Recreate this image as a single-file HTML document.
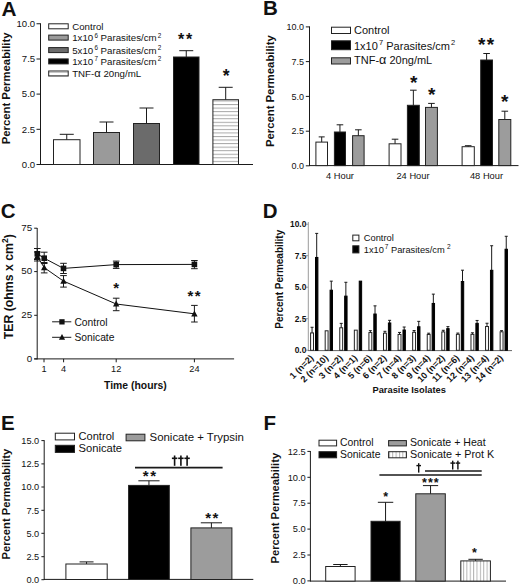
<!DOCTYPE html>
<html><head><meta charset="utf-8"><style>
html,body{margin:0;padding:0;background:#fff;}
svg{display:block;}
text{font-family:"Liberation Sans",sans-serif;fill:#111;}
</style></head><body>
<svg width="520" height="585" viewBox="0 0 520 585">
<rect width="520" height="585" fill="#fff"/>
<defs>
<pattern id="hstripe" patternUnits="userSpaceOnUse" x="0" y="100.5" width="4" height="3.55"><rect width="4" height="3.55" fill="#fff"/><rect y="0" width="4" height="1" fill="#a8a8a8"/></pattern>
<pattern id="hstripe2" patternUnits="userSpaceOnUse" x="0" y="72" width="4" height="3"><rect width="4" height="3" fill="#fff"/><rect y="0" width="4" height="1" fill="#c8c8c8"/></pattern>
<pattern id="vstripe" patternUnits="userSpaceOnUse" x="463" y="0" width="3.37" height="4"><rect width="3.37" height="4" fill="#fff"/><rect x="0" width="1" height="4" fill="#b4b4b4"/></pattern>
</defs>
<text x="1.5" y="15.9" font-size="20.8" font-weight="bold" text-anchor="start">A</text>
<line x1="40.5" y1="23.3" x2="40.5" y2="165" stroke="#1a1a1a" stroke-width="1"/>
<line x1="36.5" y1="23.75" x2="40.5" y2="23.75" stroke="#1a1a1a" stroke-width="1"/>
<text x="35.2" y="26.95" font-size="9.6" text-anchor="end">10.0</text>
<line x1="36.5" y1="59" x2="40.5" y2="59" stroke="#1a1a1a" stroke-width="1"/>
<text x="35.2" y="62.2" font-size="9.6" text-anchor="end">7.5</text>
<line x1="36.5" y1="94.1" x2="40.5" y2="94.1" stroke="#1a1a1a" stroke-width="1"/>
<text x="35.2" y="97.3" font-size="9.6" text-anchor="end">5.0</text>
<line x1="36.5" y1="129.3" x2="40.5" y2="129.3" stroke="#1a1a1a" stroke-width="1"/>
<text x="35.2" y="132.5" font-size="9.6" text-anchor="end">2.5</text>
<line x1="36.5" y1="164.5" x2="40.5" y2="164.5" stroke="#1a1a1a" stroke-width="1"/>
<text x="35.2" y="167.7" font-size="9.6" text-anchor="end">0.0</text>
<line x1="40" y1="164.5" x2="253" y2="164.5" stroke="#1a1a1a" stroke-width="1"/>
<line x1="66.75" y1="134.3" x2="66.75" y2="140.2" stroke="#1a1a1a" stroke-width="1"/>
<line x1="59.75" y1="134.3" x2="73.75" y2="134.3" stroke="#1a1a1a" stroke-width="1"/>
<rect x="53.5" y="139.7" width="26.5" height="24.80000000000001" fill="#fff" stroke="#222" stroke-width="1"/>
<line x1="106.5" y1="122" x2="106.5" y2="133" stroke="#1a1a1a" stroke-width="1"/>
<line x1="99.5" y1="122" x2="113.5" y2="122" stroke="#1a1a1a" stroke-width="1"/>
<rect x="93.5" y="132.5" width="26" height="32.0" fill="#9a9a9a" stroke="#222" stroke-width="1"/>
<line x1="146.5" y1="108" x2="146.5" y2="124" stroke="#1a1a1a" stroke-width="1"/>
<line x1="139.5" y1="108" x2="153.5" y2="108" stroke="#1a1a1a" stroke-width="1"/>
<rect x="133.5" y="123.5" width="26" height="41.0" fill="#6b6b6b" stroke="#222" stroke-width="1"/>
<line x1="186.25" y1="50.7" x2="186.25" y2="57.5" stroke="#1a1a1a" stroke-width="1"/>
<line x1="179.25" y1="50.7" x2="193.25" y2="50.7" stroke="#1a1a1a" stroke-width="1"/>
<rect x="173.5" y="57.0" width="25.5" height="107.5" fill="#000" stroke="#222" stroke-width="1"/>
<line x1="225.7" y1="87.3" x2="225.7" y2="100.2" stroke="#1a1a1a" stroke-width="1"/>
<line x1="218.7" y1="87.3" x2="232.7" y2="87.3" stroke="#1a1a1a" stroke-width="1"/>
<rect x="212.9" y="99.7" width="25.599999999999994" height="64.8" fill="url(#hstripe)" stroke="#222" stroke-width="1"/>
<text x="181.0" y="44.64" font-size="16" font-weight="bold" text-anchor="middle">*</text>
<text x="189.1" y="44.64" font-size="16" font-weight="bold" text-anchor="middle">*</text>
<text x="226.2" y="82.08" font-size="17.5" font-weight="bold" text-anchor="middle">*</text>
<rect x="48.7" y="23.8" width="19.5" height="5.0" fill="#fff" stroke="#222" stroke-width="1"/>
<text x="72.2" y="29.7" font-size="9.7" text-anchor="start">Control</text>
<rect x="48.7" y="35.1" width="19.5" height="5.0" fill="#9a9a9a" stroke="#222" stroke-width="1"/>
<text x="72.2" y="41.1" font-size="9.7" text-anchor="start">1x10<tspan dx="1.2" dy="-3.6" font-size="6.3">6</tspan><tspan dy="3.6"> Parasites/cm</tspan><tspan dx="1.2" dy="-3.6" font-size="6.3">2</tspan></text>
<rect x="48.7" y="47.6" width="19.5" height="5.0" fill="#6b6b6b" stroke="#222" stroke-width="1"/>
<text x="72.2" y="53.6" font-size="9.7" text-anchor="start">5x10<tspan dx="1.2" dy="-3.6" font-size="6.3">6</tspan><tspan dy="3.6"> Parasites/cm</tspan><tspan dx="1.2" dy="-3.6" font-size="6.3">2</tspan></text>
<rect x="48.7" y="58.9" width="19.5" height="5.000000000000007" fill="#000" stroke="#222" stroke-width="1"/>
<text x="72.2" y="64.9" font-size="9.7" text-anchor="start">1x10<tspan dx="1.2" dy="-3.6" font-size="6.3">7</tspan><tspan dy="3.6"> Parasites/cm</tspan><tspan dx="1.2" dy="-3.6" font-size="6.3">2</tspan></text>
<rect x="48.7" y="71.0" width="19.5" height="5.0" fill="url(#hstripe2)" stroke="#222" stroke-width="1"/>
<text x="72.2" y="76.75" font-size="9.7" text-anchor="start">TNF-<tspan font-size="1.15em">α</tspan> 20ng/mL</text>
<text x="10.3" y="88.4" font-size="11.3" font-weight="bold" text-anchor="middle" transform="rotate(-90 10.3 88.4)">Percent Permeability</text>
<text x="263.1" y="15.3" font-size="20.5" font-weight="bold" text-anchor="start">B</text>
<line x1="309.5" y1="26.4" x2="309.5" y2="166" stroke="#1a1a1a" stroke-width="1"/>
<line x1="305.8" y1="26.9" x2="309.5" y2="26.9" stroke="#1a1a1a" stroke-width="1"/>
<text x="304.0" y="30.1" font-size="9" text-anchor="end">10.0</text>
<line x1="305.8" y1="61.6" x2="309.5" y2="61.6" stroke="#1a1a1a" stroke-width="1"/>
<text x="304.0" y="64.8" font-size="9" text-anchor="end">7.5</text>
<line x1="305.8" y1="96.4" x2="309.5" y2="96.4" stroke="#1a1a1a" stroke-width="1"/>
<text x="304.0" y="99.6" font-size="9" text-anchor="end">5.0</text>
<line x1="305.8" y1="131.2" x2="309.5" y2="131.2" stroke="#1a1a1a" stroke-width="1"/>
<text x="304.0" y="134.4" font-size="9" text-anchor="end">2.5</text>
<line x1="305.8" y1="165.8" x2="309.5" y2="165.8" stroke="#1a1a1a" stroke-width="1"/>
<text x="304.0" y="169.0" font-size="9" text-anchor="end">0.0</text>
<line x1="309" y1="165.6" x2="518.5" y2="165.6" stroke="#1a1a1a" stroke-width="1"/>
<line x1="321.7" y1="136.9" x2="321.7" y2="142.6" stroke="#1a1a1a" stroke-width="1"/>
<line x1="318.7" y1="136.9" x2="324.7" y2="136.9" stroke="#1a1a1a" stroke-width="1"/>
<rect x="315.9" y="142.1" width="11.600000000000023" height="23.5" fill="#fff" stroke="#222" stroke-width="1"/>
<line x1="339.95" y1="124.8" x2="339.95" y2="132.5" stroke="#1a1a1a" stroke-width="1"/>
<line x1="336.65" y1="124.8" x2="343.25" y2="124.8" stroke="#1a1a1a" stroke-width="1"/>
<rect x="334.4" y="132.0" width="11.100000000000023" height="33.599999999999994" fill="#000" stroke="#222" stroke-width="1"/>
<line x1="358.35" y1="129.8" x2="358.35" y2="136.2" stroke="#1a1a1a" stroke-width="1"/>
<line x1="355.05" y1="129.8" x2="361.65000000000003" y2="129.8" stroke="#1a1a1a" stroke-width="1"/>
<rect x="352.6" y="135.7" width="11.5" height="29.900000000000006" fill="#9c9c9c" stroke="#222" stroke-width="1"/>
<line x1="395.05" y1="139.2" x2="395.05" y2="144.3" stroke="#1a1a1a" stroke-width="1"/>
<line x1="391.75" y1="139.2" x2="398.35" y2="139.2" stroke="#1a1a1a" stroke-width="1"/>
<rect x="389.1" y="143.8" width="11.899999999999977" height="21.799999999999983" fill="#fff" stroke="#222" stroke-width="1"/>
<line x1="413.35" y1="90.2" x2="413.35" y2="105.8" stroke="#1a1a1a" stroke-width="1"/>
<line x1="410.05" y1="90.2" x2="416.65000000000003" y2="90.2" stroke="#1a1a1a" stroke-width="1"/>
<rect x="407.4" y="105.3" width="11.900000000000034" height="60.3" fill="#000" stroke="#222" stroke-width="1"/>
<line x1="431.45" y1="103.4" x2="431.45" y2="107.9" stroke="#1a1a1a" stroke-width="1"/>
<line x1="428.15" y1="103.4" x2="434.75" y2="103.4" stroke="#1a1a1a" stroke-width="1"/>
<rect x="425.5" y="107.4" width="11.899999999999977" height="58.19999999999999" fill="#9c9c9c" stroke="#222" stroke-width="1"/>
<line x1="468.20000000000005" y1="145.7" x2="468.20000000000005" y2="147.2" stroke="#1a1a1a" stroke-width="1"/>
<line x1="464.90000000000003" y1="145.7" x2="471.50000000000006" y2="145.7" stroke="#1a1a1a" stroke-width="1"/>
<rect x="462.1" y="146.7" width="12.199999999999989" height="18.900000000000006" fill="#fff" stroke="#222" stroke-width="1"/>
<line x1="486.6" y1="53.5" x2="486.6" y2="60.5" stroke="#1a1a1a" stroke-width="1"/>
<line x1="483.3" y1="53.5" x2="489.90000000000003" y2="53.5" stroke="#1a1a1a" stroke-width="1"/>
<rect x="480.7" y="60.0" width="11.800000000000011" height="105.6" fill="#000" stroke="#222" stroke-width="1"/>
<line x1="504.8" y1="111.2" x2="504.8" y2="120" stroke="#1a1a1a" stroke-width="1"/>
<line x1="501.5" y1="111.2" x2="508.1" y2="111.2" stroke="#1a1a1a" stroke-width="1"/>
<rect x="498.8" y="119.5" width="12.0" height="46.099999999999994" fill="#9c9c9c" stroke="#222" stroke-width="1"/>
<text x="413.8" y="88.81" font-size="19" font-weight="bold" text-anchor="middle">*</text>
<text x="431.7" y="101.31" font-size="19" font-weight="bold" text-anchor="middle">*</text>
<text x="481.8" y="50.51" font-size="19" font-weight="bold" text-anchor="middle">*</text>
<text x="490.4" y="50.51" font-size="19" font-weight="bold" text-anchor="middle">*</text>
<text x="504.7" y="107.61" font-size="19" font-weight="bold" text-anchor="middle">*</text>
<text x="340" y="178.6" font-size="9.3" text-anchor="middle">4 Hour</text>
<text x="413" y="178.6" font-size="9.3" text-anchor="middle">24 Hour</text>
<text x="486.5" y="178.6" font-size="9.3" text-anchor="middle">48 Hour</text>
<rect x="331.5" y="27.2" width="19" height="6.300000000000001" fill="#fff" stroke="#222" stroke-width="1"/>
<text x="354" y="34.0" font-size="11" text-anchor="start">Control</text>
<rect x="331.5" y="40.8" width="19" height="8.900000000000006" fill="#000" stroke="#222" stroke-width="1"/>
<text x="354" y="49.8" font-size="11" text-anchor="start">1x10<tspan dx="1.2" dy="-4.5" font-size="7.5">7</tspan><tspan dy="4.5"> Parasites/cm</tspan><tspan dx="1.2" dy="-4.5" font-size="7.5">2</tspan></text>
<rect x="331.5" y="57.8" width="19" height="6.200000000000003" fill="#9c9c9c" stroke="#222" stroke-width="1"/>
<text x="354" y="64.3" font-size="11" text-anchor="start">TNF-<tspan font-size="1.15em">α</tspan> 20ng/mL</text>
<text x="274.4" y="91.1" font-size="11.3" font-weight="bold" text-anchor="middle" transform="rotate(-90 274.4 91.1)">Percent Permeability</text>
<text x="0.8" y="218.3" font-size="20.5" font-weight="bold" text-anchor="start">C</text>
<line x1="37.2" y1="228" x2="37.2" y2="359.4" stroke="#1a1a1a" stroke-width="1"/>
<line x1="34.2" y1="358.9" x2="234.1" y2="358.9" stroke="#1a1a1a" stroke-width="1"/>
<line x1="34.2" y1="228.2" x2="37.2" y2="228.2" stroke="#1a1a1a" stroke-width="1"/>
<text x="32.2" y="230.9" font-size="9.8" text-anchor="end">75</text>
<line x1="34.2" y1="271.6" x2="37.2" y2="271.6" stroke="#1a1a1a" stroke-width="1"/>
<text x="32.2" y="274.3" font-size="9.8" text-anchor="end">50</text>
<line x1="34.2" y1="315.3" x2="37.2" y2="315.3" stroke="#1a1a1a" stroke-width="1"/>
<text x="32.2" y="318.0" font-size="9.8" text-anchor="end">25</text>
<line x1="34.2" y1="358.9" x2="37.2" y2="358.9" stroke="#1a1a1a" stroke-width="1"/>
<text x="32.2" y="361.6" font-size="9.8" text-anchor="end">0</text>
<line x1="44" y1="358.9" x2="44" y2="362.3" stroke="#1a1a1a" stroke-width="1"/>
<text x="44" y="372" font-size="9.2" text-anchor="middle">1</text>
<line x1="63.6" y1="358.9" x2="63.6" y2="362.3" stroke="#1a1a1a" stroke-width="1"/>
<text x="63.6" y="372" font-size="9.2" text-anchor="middle">4</text>
<line x1="116.2" y1="358.9" x2="116.2" y2="362.3" stroke="#1a1a1a" stroke-width="1"/>
<text x="116.2" y="372" font-size="9.2" text-anchor="middle">12</text>
<line x1="194.4" y1="358.9" x2="194.4" y2="362.3" stroke="#1a1a1a" stroke-width="1"/>
<text x="194.4" y="372" font-size="9.2" text-anchor="middle">24</text>
<text x="135.4" y="389.2" font-size="10.4" font-weight="bold" text-anchor="middle">Time (hours)</text>
<text x="12.6" y="286.7" font-size="12.3" font-weight="bold" text-anchor="middle" transform="rotate(-90 12.6 286.7)">TER (ohms x cm<tspan dy="-4.8" font-size="8.5">2</tspan><tspan dy="4.8">)</tspan></text>
<polyline points="37.3,253.8 44.2,258.2 63.5,268.4 116.2,264.6 194.4,264.4" fill="none" stroke="#111" stroke-width="1"/>
<polyline points="37.3,256.3 44.2,267.6 63.5,281.1 116.2,304 194.4,313.8" fill="none" stroke="#111" stroke-width="1"/>
<line x1="37.3" y1="248.5" x2="37.3" y2="259.5" stroke="#1a1a1a" stroke-width="1"/>
<line x1="34.0" y1="248.5" x2="40.599999999999994" y2="248.5" stroke="#1a1a1a" stroke-width="1"/>
<line x1="34.0" y1="259.5" x2="40.599999999999994" y2="259.5" stroke="#1a1a1a" stroke-width="1"/>
<line x1="44.2" y1="252.2" x2="44.2" y2="263.5" stroke="#1a1a1a" stroke-width="1"/>
<line x1="40.900000000000006" y1="252.2" x2="47.5" y2="252.2" stroke="#1a1a1a" stroke-width="1"/>
<line x1="40.900000000000006" y1="263.5" x2="47.5" y2="263.5" stroke="#1a1a1a" stroke-width="1"/>
<line x1="63.5" y1="263.3" x2="63.5" y2="273.5" stroke="#1a1a1a" stroke-width="1"/>
<line x1="60.2" y1="263.3" x2="66.8" y2="263.3" stroke="#1a1a1a" stroke-width="1"/>
<line x1="60.2" y1="273.5" x2="66.8" y2="273.5" stroke="#1a1a1a" stroke-width="1"/>
<line x1="116.2" y1="261.1" x2="116.2" y2="268.4" stroke="#1a1a1a" stroke-width="1"/>
<line x1="112.9" y1="261.1" x2="119.5" y2="261.1" stroke="#1a1a1a" stroke-width="1"/>
<line x1="112.9" y1="268.4" x2="119.5" y2="268.4" stroke="#1a1a1a" stroke-width="1"/>
<line x1="194.4" y1="260.5" x2="194.4" y2="268.7" stroke="#1a1a1a" stroke-width="1"/>
<line x1="191.1" y1="260.5" x2="197.70000000000002" y2="260.5" stroke="#1a1a1a" stroke-width="1"/>
<line x1="191.1" y1="268.7" x2="197.70000000000002" y2="268.7" stroke="#1a1a1a" stroke-width="1"/>
<line x1="37.3" y1="252" x2="37.3" y2="261" stroke="#1a1a1a" stroke-width="1"/>
<line x1="34.0" y1="252" x2="40.599999999999994" y2="252" stroke="#1a1a1a" stroke-width="1"/>
<line x1="34.0" y1="261" x2="40.599999999999994" y2="261" stroke="#1a1a1a" stroke-width="1"/>
<line x1="44.2" y1="262.5" x2="44.2" y2="272.9" stroke="#1a1a1a" stroke-width="1"/>
<line x1="40.900000000000006" y1="262.5" x2="47.5" y2="262.5" stroke="#1a1a1a" stroke-width="1"/>
<line x1="40.900000000000006" y1="272.9" x2="47.5" y2="272.9" stroke="#1a1a1a" stroke-width="1"/>
<line x1="63.5" y1="275.6" x2="63.5" y2="287.1" stroke="#1a1a1a" stroke-width="1"/>
<line x1="60.2" y1="275.6" x2="66.8" y2="275.6" stroke="#1a1a1a" stroke-width="1"/>
<line x1="60.2" y1="287.1" x2="66.8" y2="287.1" stroke="#1a1a1a" stroke-width="1"/>
<line x1="116.2" y1="298.2" x2="116.2" y2="310.7" stroke="#1a1a1a" stroke-width="1"/>
<line x1="112.9" y1="298.2" x2="119.5" y2="298.2" stroke="#1a1a1a" stroke-width="1"/>
<line x1="112.9" y1="310.7" x2="119.5" y2="310.7" stroke="#1a1a1a" stroke-width="1"/>
<line x1="194.4" y1="305.4" x2="194.4" y2="322" stroke="#1a1a1a" stroke-width="1"/>
<line x1="191.1" y1="305.4" x2="197.70000000000002" y2="305.4" stroke="#1a1a1a" stroke-width="1"/>
<line x1="191.1" y1="322" x2="197.70000000000002" y2="322" stroke="#1a1a1a" stroke-width="1"/>
<rect x="34.5" y="251.0" width="5.599999999999994" height="5.600000000000023" fill="#111"/>
<rect x="41.400000000000006" y="255.39999999999998" width="5.599999999999994" height="5.600000000000023" fill="#111"/>
<rect x="60.7" y="265.59999999999997" width="5.599999999999994" height="5.600000000000023" fill="#111"/>
<rect x="113.4" y="261.8" width="5.599999999999994" height="5.600000000000023" fill="#111"/>
<rect x="191.6" y="261.59999999999997" width="5.600000000000023" height="5.600000000000023" fill="#111"/>
<polygon points="34.099999999999994,258.90000000000003 40.5,258.90000000000003 37.3,252.9" fill="#111"/>
<polygon points="41.0,270.20000000000005 47.400000000000006,270.20000000000005 44.2,264.20000000000005" fill="#111"/>
<polygon points="60.3,283.70000000000005 66.7,283.70000000000005 63.5,277.70000000000005" fill="#111"/>
<polygon points="113.0,306.6 119.4,306.6 116.2,300.6" fill="#111"/>
<polygon points="191.20000000000002,316.40000000000003 197.6,316.40000000000003 194.4,310.40000000000003" fill="#111"/>
<text x="116.2" y="293.15" font-size="15" font-weight="bold" text-anchor="middle">*</text>
<text x="190.4" y="300.65" font-size="15" font-weight="bold" text-anchor="middle">*</text>
<text x="197.6" y="300.65" font-size="15" font-weight="bold" text-anchor="middle">*</text>
<line x1="52.1" y1="321.8" x2="71.3" y2="321.8" stroke="#1a1a1a" stroke-width="1"/>
<rect x="59.3" y="319.2" width="5.299999999999997" height="5.300000000000011" fill="#111"/>
<text x="74.4" y="325.5" font-size="10.3" text-anchor="start">Control</text>
<line x1="52.1" y1="337.3" x2="71.3" y2="337.3" stroke="#1a1a1a" stroke-width="1"/>
<polygon points="58.9,339.8 65.1,339.8 62,334" fill="#111"/>
<text x="74.4" y="341.1" font-size="10.3" text-anchor="start">Sonicate</text>
<text x="262.7" y="217.7" font-size="20.5" font-weight="bold" text-anchor="start">D</text>
<line x1="308.3" y1="222" x2="308.3" y2="350.8" stroke="#9a9a9a" stroke-width="1"/>
<line x1="306" y1="224.2" x2="308.3" y2="224.2" stroke="#9a9a9a" stroke-width="1"/>
<text x="306.3" y="227.3" font-size="8.4" font-weight="bold" text-anchor="end">10.0</text>
<line x1="306" y1="255.7" x2="308.3" y2="255.7" stroke="#9a9a9a" stroke-width="1"/>
<text x="306.3" y="258.8" font-size="8.4" font-weight="bold" text-anchor="end">7.5</text>
<line x1="306" y1="287.2" x2="308.3" y2="287.2" stroke="#9a9a9a" stroke-width="1"/>
<text x="306.3" y="290.3" font-size="8.4" font-weight="bold" text-anchor="end">5.0</text>
<line x1="306" y1="318.7" x2="308.3" y2="318.7" stroke="#9a9a9a" stroke-width="1"/>
<text x="306.3" y="321.8" font-size="8.4" font-weight="bold" text-anchor="end">2.5</text>
<line x1="306" y1="350.2" x2="308.3" y2="350.2" stroke="#9a9a9a" stroke-width="1"/>
<text x="306.3" y="353.3" font-size="8.4" font-weight="bold" text-anchor="end">0.0</text>
<line x1="308" y1="350.6" x2="512" y2="350.6" stroke="#666" stroke-width="1"/>
<line x1="312.04999999999995" y1="327.268" x2="312.04999999999995" y2="333.43399999999997" stroke="#1a1a1a" stroke-width="1"/>
<line x1="310.54999999999995" y1="327.268" x2="313.54999999999995" y2="327.268" stroke="#1a1a1a" stroke-width="1"/>
<rect x="310.59999999999997" y="332.93399999999997" width="2.900000000000034" height="17.366000000000042" fill="#fff" stroke="#222" stroke-width="1"/>
<line x1="316.7" y1="233.398" x2="316.7" y2="257.96" stroke="#1a1a1a" stroke-width="1"/>
<line x1="315.2" y1="233.398" x2="318.2" y2="233.398" stroke="#1a1a1a" stroke-width="1"/>
<rect x="315.5" y="257.46" width="2.3999999999999773" height="92.84000000000003" fill="#000" stroke="#000" stroke-width="1"/>
<rect x="325.17999999999995" y="330.792" width="2.900000000000034" height="19.508000000000038" fill="#fff" stroke="#222" stroke-width="1"/>
<line x1="331.28" y1="281.152" x2="331.28" y2="290.71999999999997" stroke="#1a1a1a" stroke-width="1"/>
<line x1="329.78" y1="281.152" x2="332.78" y2="281.152" stroke="#1a1a1a" stroke-width="1"/>
<rect x="330.08" y="290.21999999999997" width="2.3999999999999773" height="60.08000000000004" fill="#000" stroke="#000" stroke-width="1"/>
<line x1="341.21000000000004" y1="323.36199999999997" x2="341.21000000000004" y2="328.268" stroke="#1a1a1a" stroke-width="1"/>
<line x1="339.71000000000004" y1="323.36199999999997" x2="342.71000000000004" y2="323.36199999999997" stroke="#1a1a1a" stroke-width="1"/>
<rect x="339.76" y="327.768" width="2.900000000000034" height="22.53200000000004" fill="#fff" stroke="#222" stroke-width="1"/>
<line x1="345.86" y1="282.286" x2="345.86" y2="296.642" stroke="#1a1a1a" stroke-width="1"/>
<line x1="344.36" y1="282.286" x2="347.36" y2="282.286" stroke="#1a1a1a" stroke-width="1"/>
<rect x="344.66" y="296.142" width="2.3999999999999773" height="54.158000000000015" fill="#000" stroke="#000" stroke-width="1"/>
<rect x="354.34" y="330.162" width="2.900000000000034" height="20.138000000000034" fill="#fff" stroke="#222" stroke-width="1"/>
<rect x="359.24" y="281.148" width="2.3999999999999773" height="69.15199999999999" fill="#000" stroke="#000" stroke-width="1"/>
<line x1="370.37" y1="330.66999999999996" x2="370.37" y2="333.056" stroke="#1a1a1a" stroke-width="1"/>
<line x1="368.87" y1="330.66999999999996" x2="371.87" y2="330.66999999999996" stroke="#1a1a1a" stroke-width="1"/>
<rect x="368.91999999999996" y="332.556" width="2.900000000000034" height="17.744000000000028" fill="#fff" stroke="#222" stroke-width="1"/>
<line x1="375.02" y1="305.848" x2="375.02" y2="314.534" stroke="#1a1a1a" stroke-width="1"/>
<line x1="373.52" y1="305.848" x2="376.52" y2="305.848" stroke="#1a1a1a" stroke-width="1"/>
<rect x="373.82" y="314.034" width="2.3999999999999773" height="36.26600000000002" fill="#000" stroke="#000" stroke-width="1"/>
<line x1="384.95000000000005" y1="331.3" x2="384.95000000000005" y2="333.686" stroke="#1a1a1a" stroke-width="1"/>
<line x1="383.45000000000005" y1="331.3" x2="386.45000000000005" y2="331.3" stroke="#1a1a1a" stroke-width="1"/>
<rect x="383.5" y="333.186" width="2.900000000000034" height="17.114000000000033" fill="#fff" stroke="#222" stroke-width="1"/>
<line x1="389.6" y1="320.33799999999997" x2="389.6" y2="323.47999999999996" stroke="#1a1a1a" stroke-width="1"/>
<line x1="388.1" y1="320.33799999999997" x2="391.1" y2="320.33799999999997" stroke="#1a1a1a" stroke-width="1"/>
<rect x="388.40000000000003" y="322.97999999999996" width="2.3999999999999773" height="27.32000000000005" fill="#000" stroke="#000" stroke-width="1"/>
<line x1="399.53" y1="332.43399999999997" x2="399.53" y2="334.94599999999997" stroke="#1a1a1a" stroke-width="1"/>
<line x1="398.03" y1="332.43399999999997" x2="401.03" y2="332.43399999999997" stroke="#1a1a1a" stroke-width="1"/>
<rect x="398.08" y="334.44599999999997" width="2.900000000000034" height="15.854000000000042" fill="#fff" stroke="#222" stroke-width="1"/>
<line x1="404.18" y1="327.01599999999996" x2="404.18" y2="330.536" stroke="#1a1a1a" stroke-width="1"/>
<line x1="402.68" y1="327.01599999999996" x2="405.68" y2="327.01599999999996" stroke="#1a1a1a" stroke-width="1"/>
<rect x="402.98" y="330.036" width="2.3999999999999773" height="20.26400000000001" fill="#000" stroke="#000" stroke-width="1"/>
<line x1="414.11" y1="330.544" x2="414.11" y2="332.804" stroke="#1a1a1a" stroke-width="1"/>
<line x1="412.61" y1="330.544" x2="415.61" y2="330.544" stroke="#1a1a1a" stroke-width="1"/>
<rect x="412.65999999999997" y="332.304" width="2.900000000000034" height="17.996000000000038" fill="#fff" stroke="#222" stroke-width="1"/>
<line x1="418.76" y1="321.346" x2="418.76" y2="327.26" stroke="#1a1a1a" stroke-width="1"/>
<line x1="417.26" y1="321.346" x2="420.26" y2="321.346" stroke="#1a1a1a" stroke-width="1"/>
<rect x="417.56" y="326.76" width="2.3999999999999773" height="23.54000000000002" fill="#000" stroke="#000" stroke-width="1"/>
<line x1="428.68999999999994" y1="333.19" x2="428.68999999999994" y2="334.94599999999997" stroke="#1a1a1a" stroke-width="1"/>
<line x1="427.18999999999994" y1="333.19" x2="430.18999999999994" y2="333.19" stroke="#1a1a1a" stroke-width="1"/>
<rect x="427.23999999999995" y="334.44599999999997" width="2.900000000000034" height="15.854000000000042" fill="#fff" stroke="#222" stroke-width="1"/>
<line x1="433.34" y1="294.13" x2="433.34" y2="303.95" stroke="#1a1a1a" stroke-width="1"/>
<line x1="431.84" y1="294.13" x2="434.84" y2="294.13" stroke="#1a1a1a" stroke-width="1"/>
<rect x="432.14" y="303.45" width="2.3999999999999773" height="46.85000000000002" fill="#000" stroke="#000" stroke-width="1"/>
<line x1="443.27" y1="330.292" x2="443.27" y2="332.426" stroke="#1a1a1a" stroke-width="1"/>
<line x1="441.77" y1="330.292" x2="444.77" y2="330.292" stroke="#1a1a1a" stroke-width="1"/>
<rect x="441.81999999999994" y="331.926" width="2.900000000000034" height="18.374000000000024" fill="#fff" stroke="#222" stroke-width="1"/>
<line x1="447.91999999999996" y1="326.638" x2="447.91999999999996" y2="329.15" stroke="#1a1a1a" stroke-width="1"/>
<line x1="446.41999999999996" y1="326.638" x2="449.41999999999996" y2="326.638" stroke="#1a1a1a" stroke-width="1"/>
<rect x="446.71999999999997" y="328.65" width="2.3999999999999773" height="21.650000000000034" fill="#000" stroke="#000" stroke-width="1"/>
<line x1="457.85" y1="333.06399999999996" x2="457.85" y2="334.82" stroke="#1a1a1a" stroke-width="1"/>
<line x1="456.35" y1="333.06399999999996" x2="459.35" y2="333.06399999999996" stroke="#1a1a1a" stroke-width="1"/>
<rect x="456.4" y="334.32" width="2.900000000000034" height="15.980000000000018" fill="#fff" stroke="#222" stroke-width="1"/>
<line x1="462.5" y1="270.19" x2="462.5" y2="282.02599999999995" stroke="#1a1a1a" stroke-width="1"/>
<line x1="461.0" y1="270.19" x2="464.0" y2="270.19" stroke="#1a1a1a" stroke-width="1"/>
<rect x="461.3" y="281.52599999999995" width="2.3999999999999773" height="68.77400000000006" fill="#000" stroke="#000" stroke-width="1"/>
<line x1="472.42999999999995" y1="332.812" x2="472.42999999999995" y2="334.82" stroke="#1a1a1a" stroke-width="1"/>
<line x1="470.92999999999995" y1="332.812" x2="473.92999999999995" y2="332.812" stroke="#1a1a1a" stroke-width="1"/>
<rect x="470.97999999999996" y="334.32" width="2.900000000000034" height="15.980000000000018" fill="#fff" stroke="#222" stroke-width="1"/>
<line x1="477.08" y1="320.464" x2="477.08" y2="323.858" stroke="#1a1a1a" stroke-width="1"/>
<line x1="475.58" y1="320.464" x2="478.58" y2="320.464" stroke="#1a1a1a" stroke-width="1"/>
<rect x="475.88" y="323.358" width="2.3999999999999773" height="26.942000000000007" fill="#000" stroke="#000" stroke-width="1"/>
<line x1="487.01" y1="323.236" x2="487.01" y2="327.008" stroke="#1a1a1a" stroke-width="1"/>
<line x1="485.51" y1="323.236" x2="488.51" y2="323.236" stroke="#1a1a1a" stroke-width="1"/>
<rect x="485.55999999999995" y="326.508" width="2.900000000000034" height="23.79200000000003" fill="#fff" stroke="#222" stroke-width="1"/>
<line x1="491.65999999999997" y1="245.746" x2="491.65999999999997" y2="270.812" stroke="#1a1a1a" stroke-width="1"/>
<line x1="490.15999999999997" y1="245.746" x2="493.15999999999997" y2="245.746" stroke="#1a1a1a" stroke-width="1"/>
<rect x="490.46" y="270.312" width="2.3999999999999773" height="79.988" fill="#000" stroke="#000" stroke-width="1"/>
<line x1="501.59000000000003" y1="330.66999999999996" x2="501.59000000000003" y2="332.3" stroke="#1a1a1a" stroke-width="1"/>
<line x1="500.09000000000003" y1="330.66999999999996" x2="503.09000000000003" y2="330.66999999999996" stroke="#1a1a1a" stroke-width="1"/>
<rect x="500.14" y="331.8" width="2.900000000000034" height="18.5" fill="#fff" stroke="#222" stroke-width="1"/>
<line x1="506.24" y1="236.296" x2="506.24" y2="249.76999999999998" stroke="#1a1a1a" stroke-width="1"/>
<line x1="504.74" y1="236.296" x2="507.74" y2="236.296" stroke="#1a1a1a" stroke-width="1"/>
<rect x="505.04" y="249.26999999999998" width="2.3999999999999773" height="101.03000000000003" fill="#000" stroke="#000" stroke-width="1"/>
<text x="314.2" y="358.5" font-size="9.1" font-weight="bold" text-anchor="end" transform="rotate(-45 314.2 358.5)">1 (n=2)</text>
<text x="328.78" y="358.5" font-size="9.1" font-weight="bold" text-anchor="end" transform="rotate(-45 328.78 358.5)">2 (n=10)</text>
<text x="343.36" y="358.5" font-size="9.1" font-weight="bold" text-anchor="end" transform="rotate(-45 343.36 358.5)">3 (n=2)</text>
<text x="357.94" y="358.5" font-size="9.1" font-weight="bold" text-anchor="end" transform="rotate(-45 357.94 358.5)">4 (n=1)</text>
<text x="372.52" y="358.5" font-size="9.1" font-weight="bold" text-anchor="end" transform="rotate(-45 372.52 358.5)">5 (n=6)</text>
<text x="387.1" y="358.5" font-size="9.1" font-weight="bold" text-anchor="end" transform="rotate(-45 387.1 358.5)">6 (n=2)</text>
<text x="401.68" y="358.5" font-size="9.1" font-weight="bold" text-anchor="end" transform="rotate(-45 401.68 358.5)">7 (n=4)</text>
<text x="416.26" y="358.5" font-size="9.1" font-weight="bold" text-anchor="end" transform="rotate(-45 416.26 358.5)">8 (n=3)</text>
<text x="430.84" y="358.5" font-size="9.1" font-weight="bold" text-anchor="end" transform="rotate(-45 430.84 358.5)">9 (n=4)</text>
<text x="445.42" y="358.5" font-size="9.1" font-weight="bold" text-anchor="end" transform="rotate(-45 445.42 358.5)">10 (n=2)</text>
<text x="460.0" y="358.5" font-size="9.1" font-weight="bold" text-anchor="end" transform="rotate(-45 460.0 358.5)">11 (n=6)</text>
<text x="474.58" y="358.5" font-size="9.1" font-weight="bold" text-anchor="end" transform="rotate(-45 474.58 358.5)">12 (n=4)</text>
<text x="489.16" y="358.5" font-size="9.1" font-weight="bold" text-anchor="end" transform="rotate(-45 489.16 358.5)">13 (n=4)</text>
<text x="503.74" y="358.5" font-size="9.1" font-weight="bold" text-anchor="end" transform="rotate(-45 503.74 358.5)">14 (n=2)</text>
<text x="409.2" y="392.7" font-size="9.3" font-weight="bold" text-anchor="middle">Parasite Isolates</text>
<rect x="352.8" y="235.1" width="6.099999999999966" height="5.700000000000017" fill="#fff" stroke="#222" stroke-width="1"/>
<text x="363.8" y="241.3" font-size="9.3" text-anchor="start">Control</text>
<rect x="352.8" y="245.8" width="6.099999999999966" height="7.099999999999994" fill="#000" stroke="#222" stroke-width="1"/>
<text x="363.8" y="252.8" font-size="9.3" text-anchor="start">1x10<tspan dx="0.8" dy="-4" font-size="6.5">7</tspan><tspan dy="4"> Parasites/cm</tspan><tspan dx="2.2" dy="-4" font-size="6.5">2</tspan></text>
<text x="283.2" y="279.2" font-size="10" font-weight="bold" text-anchor="middle" transform="rotate(-90 283.2 279.2)">Percent Permeability</text>
<text x="0.9" y="429.9" font-size="20.5" font-weight="bold" text-anchor="start">E</text>
<line x1="44.2" y1="440.2" x2="44.2" y2="580" stroke="#1a1a1a" stroke-width="1"/>
<line x1="41.400000000000006" y1="440.6" x2="44.2" y2="440.6" stroke="#1a1a1a" stroke-width="1"/>
<text x="39.2" y="443.8" font-size="9.2" text-anchor="end">15.0</text>
<line x1="41.400000000000006" y1="463.9" x2="44.2" y2="463.9" stroke="#1a1a1a" stroke-width="1"/>
<text x="39.2" y="467.1" font-size="9.2" text-anchor="end">12.5</text>
<line x1="41.400000000000006" y1="487" x2="44.2" y2="487" stroke="#1a1a1a" stroke-width="1"/>
<text x="39.2" y="490.2" font-size="9.2" text-anchor="end">10.0</text>
<line x1="41.400000000000006" y1="510.3" x2="44.2" y2="510.3" stroke="#1a1a1a" stroke-width="1"/>
<text x="39.2" y="513.5" font-size="9.2" text-anchor="end">7.5</text>
<line x1="41.400000000000006" y1="533.3" x2="44.2" y2="533.3" stroke="#1a1a1a" stroke-width="1"/>
<text x="39.2" y="536.5" font-size="9.2" text-anchor="end">5.0</text>
<line x1="41.400000000000006" y1="556.7" x2="44.2" y2="556.7" stroke="#1a1a1a" stroke-width="1"/>
<text x="39.2" y="559.9" font-size="9.2" text-anchor="end">2.5</text>
<line x1="41.400000000000006" y1="579.7" x2="44.2" y2="579.7" stroke="#1a1a1a" stroke-width="1"/>
<text x="39.2" y="582.9" font-size="9.2" text-anchor="end">0.0</text>
<line x1="44" y1="579.4" x2="253.3" y2="579.4" stroke="#1a1a1a" stroke-width="1"/>
<line x1="86.55000000000001" y1="561.9" x2="86.55000000000001" y2="564.5" stroke="#1a1a1a" stroke-width="1"/>
<line x1="79.55000000000001" y1="561.9" x2="93.55000000000001" y2="561.9" stroke="#1a1a1a" stroke-width="1"/>
<rect x="65.9" y="564.0" width="41.3" height="15.5" fill="#fff" stroke="#222" stroke-width="1"/>
<line x1="148.95" y1="480.8" x2="148.95" y2="485.9" stroke="#1a1a1a" stroke-width="1"/>
<line x1="138.35" y1="480.8" x2="159.54999999999998" y2="480.8" stroke="#1a1a1a" stroke-width="1"/>
<rect x="128.6" y="485.4" width="40.70000000000002" height="94.10000000000002" fill="#000" stroke="#222" stroke-width="1"/>
<line x1="211.4" y1="522.8" x2="211.4" y2="528.4" stroke="#1a1a1a" stroke-width="1"/>
<line x1="200.8" y1="522.8" x2="222.0" y2="522.8" stroke="#1a1a1a" stroke-width="1"/>
<rect x="190.9" y="527.9" width="41.0" height="51.60000000000002" fill="#9c9c9c" stroke="#222" stroke-width="1"/>
<text x="145.75" y="480.65" font-size="15" font-weight="bold" text-anchor="middle">*</text>
<text x="153.05" y="480.65" font-size="15" font-weight="bold" text-anchor="middle">*</text>
<text x="208.15" y="523.25" font-size="15" font-weight="bold" text-anchor="middle">*</text>
<text x="215.45" y="523.25" font-size="15" font-weight="bold" text-anchor="middle">*</text>
<rect x="173.79999999999998" y="455.5" width="1.6" height="10.3" fill="#111"/>
<rect x="171.9" y="457.5" width="5.4" height="1.6" fill="#111"/>
<rect x="180.1" y="455.5" width="1.6" height="10.3" fill="#111"/>
<rect x="178.20000000000002" y="457.5" width="5.4" height="1.6" fill="#111"/>
<rect x="186.29999999999998" y="455.5" width="1.6" height="10.3" fill="#111"/>
<rect x="184.4" y="457.5" width="5.4" height="1.6" fill="#111"/>
<line x1="135" y1="467.6" x2="222.6" y2="467.6" stroke="#1a1a1a" stroke-width="1.6"/>
<rect x="55.3" y="433.2" width="19.200000000000003" height="6.699999999999989" fill="#fff" stroke="#222" stroke-width="1"/>
<text x="78.5" y="440" font-size="11.1" text-anchor="start">Control</text>
<rect x="55.3" y="445.3" width="19.200000000000003" height="7.099999999999966" fill="#000" stroke="#222" stroke-width="1"/>
<text x="78.5" y="452.3" font-size="11.2" text-anchor="start">Sonicate</text>
<rect x="126.1" y="434.2" width="18.80000000000001" height="6.600000000000023" fill="#9c9c9c" stroke="#222" stroke-width="1"/>
<text x="149.5" y="440.9" font-size="11.45" text-anchor="start">Sonicate + Trypsin</text>
<text x="10.3" y="504.1" font-size="11.2" font-weight="bold" text-anchor="middle" transform="rotate(-90 10.3 504.1)">Percent Permeability</text>
<text x="263.4" y="429.9" font-size="20.5" font-weight="bold" text-anchor="start">F</text>
<line x1="310.4" y1="451" x2="310.4" y2="581.4" stroke="#1a1a1a" stroke-width="1"/>
<line x1="307.4" y1="451.4" x2="310.4" y2="451.4" stroke="#1a1a1a" stroke-width="1"/>
<text x="305.79999999999995" y="454.6" font-size="9.3" text-anchor="end">12.5</text>
<line x1="307.4" y1="477.3" x2="310.4" y2="477.3" stroke="#1a1a1a" stroke-width="1"/>
<text x="305.79999999999995" y="480.5" font-size="9.3" text-anchor="end">10.0</text>
<line x1="307.4" y1="503.2" x2="310.4" y2="503.2" stroke="#1a1a1a" stroke-width="1"/>
<text x="305.79999999999995" y="506.4" font-size="9.3" text-anchor="end">7.5</text>
<line x1="307.4" y1="529.1" x2="310.4" y2="529.1" stroke="#1a1a1a" stroke-width="1"/>
<text x="305.79999999999995" y="532.3" font-size="9.3" text-anchor="end">5.0</text>
<line x1="307.4" y1="555" x2="310.4" y2="555" stroke="#1a1a1a" stroke-width="1"/>
<text x="305.79999999999995" y="558.2" font-size="9.3" text-anchor="end">2.5</text>
<line x1="307.4" y1="580.9" x2="310.4" y2="580.9" stroke="#1a1a1a" stroke-width="1"/>
<text x="305.79999999999995" y="584.1" font-size="9.3" text-anchor="end">0.0</text>
<line x1="310" y1="581.1" x2="506" y2="581.1" stroke="#1a1a1a" stroke-width="1"/>
<line x1="340.4" y1="564.5" x2="340.4" y2="567" stroke="#1a1a1a" stroke-width="1"/>
<line x1="333.2" y1="564.5" x2="347.59999999999997" y2="564.5" stroke="#1a1a1a" stroke-width="1"/>
<rect x="325.7" y="566.5" width="29.400000000000034" height="14.600000000000023" fill="#fff" stroke="#222" stroke-width="1"/>
<line x1="385.55" y1="502.3" x2="385.55" y2="521.8" stroke="#1a1a1a" stroke-width="1"/>
<line x1="377.85" y1="502.3" x2="393.25" y2="502.3" stroke="#1a1a1a" stroke-width="1"/>
<rect x="371.0" y="521.3" width="29.100000000000023" height="59.80000000000007" fill="#000" stroke="#222" stroke-width="1"/>
<line x1="430.55" y1="485.6" x2="430.55" y2="494.3" stroke="#1a1a1a" stroke-width="1"/>
<line x1="422.95" y1="485.6" x2="438.15000000000003" y2="485.6" stroke="#1a1a1a" stroke-width="1"/>
<rect x="415.8" y="493.8" width="29.5" height="87.30000000000001" fill="#9c9c9c" stroke="#222" stroke-width="1"/>
<line x1="475.6" y1="559.3" x2="475.6" y2="561.4" stroke="#1a1a1a" stroke-width="1"/>
<line x1="468.40000000000003" y1="559.3" x2="482.8" y2="559.3" stroke="#1a1a1a" stroke-width="1"/>
<rect x="460.8" y="560.9" width="29.599999999999966" height="20.200000000000045" fill="url(#vstripe)" stroke="#222" stroke-width="1"/>
<text x="385.7" y="501.12" font-size="12.5" font-weight="bold" text-anchor="middle">*</text>
<text x="424.55" y="486.52" font-size="12.5" font-weight="bold" text-anchor="middle">*</text>
<text x="430.4" y="486.52" font-size="12.5" font-weight="bold" text-anchor="middle">*</text>
<text x="436.25" y="486.52" font-size="12.5" font-weight="bold" text-anchor="middle">*</text>
<text x="474.4" y="556.92" font-size="12.5" font-weight="bold" text-anchor="middle">*</text>
<line x1="379.4" y1="474.9" x2="481.7" y2="474.9" stroke="#1a1a1a" stroke-width="1.5"/>
<line x1="425" y1="471.1" x2="481.7" y2="471.1" stroke="#1a1a1a" stroke-width="1.5"/>
<rect x="418.0" y="463.2" width="1.4" height="9.4" fill="#111"/>
<rect x="416.4" y="464.9" width="4.6" height="1.4" fill="#111"/>
<rect x="452.0" y="460.7" width="1.4" height="8.8" fill="#111"/>
<rect x="450.4" y="462.4" width="4.6" height="1.4" fill="#111"/>
<rect x="457.2" y="460.7" width="1.4" height="8.8" fill="#111"/>
<rect x="455.59999999999997" y="462.4" width="4.6" height="1.4" fill="#111"/>
<rect x="319.0" y="440.2" width="17.600000000000023" height="5.699999999999989" fill="#fff" stroke="#222" stroke-width="1"/>
<text x="340" y="446.4" font-size="10.4" text-anchor="start">Control</text>
<rect x="319.0" y="451.7" width="17.600000000000023" height="6.100000000000023" fill="#000" stroke="#222" stroke-width="1"/>
<text x="340" y="458" font-size="10.4" text-anchor="start">Sonicate</text>
<rect x="388.6" y="440.6" width="17.799999999999955" height="5.2999999999999545" fill="#9c9c9c" stroke="#222" stroke-width="1"/>
<text x="410" y="446.4" font-size="10.6" text-anchor="start">Sonicate + Heat</text>
<rect x="388.6" y="451.7" width="17.799999999999955" height="6.100000000000023" fill="url(#vstripe)" stroke="#222" stroke-width="1"/>
<text x="410" y="458" font-size="10.8" text-anchor="start">Sonicate + Prot K</text>
<text x="278.6" y="508.2" font-size="11.2" font-weight="bold" text-anchor="middle" transform="rotate(-90 278.6 508.2)">Percent Permeability</text>
</svg></body></html>
